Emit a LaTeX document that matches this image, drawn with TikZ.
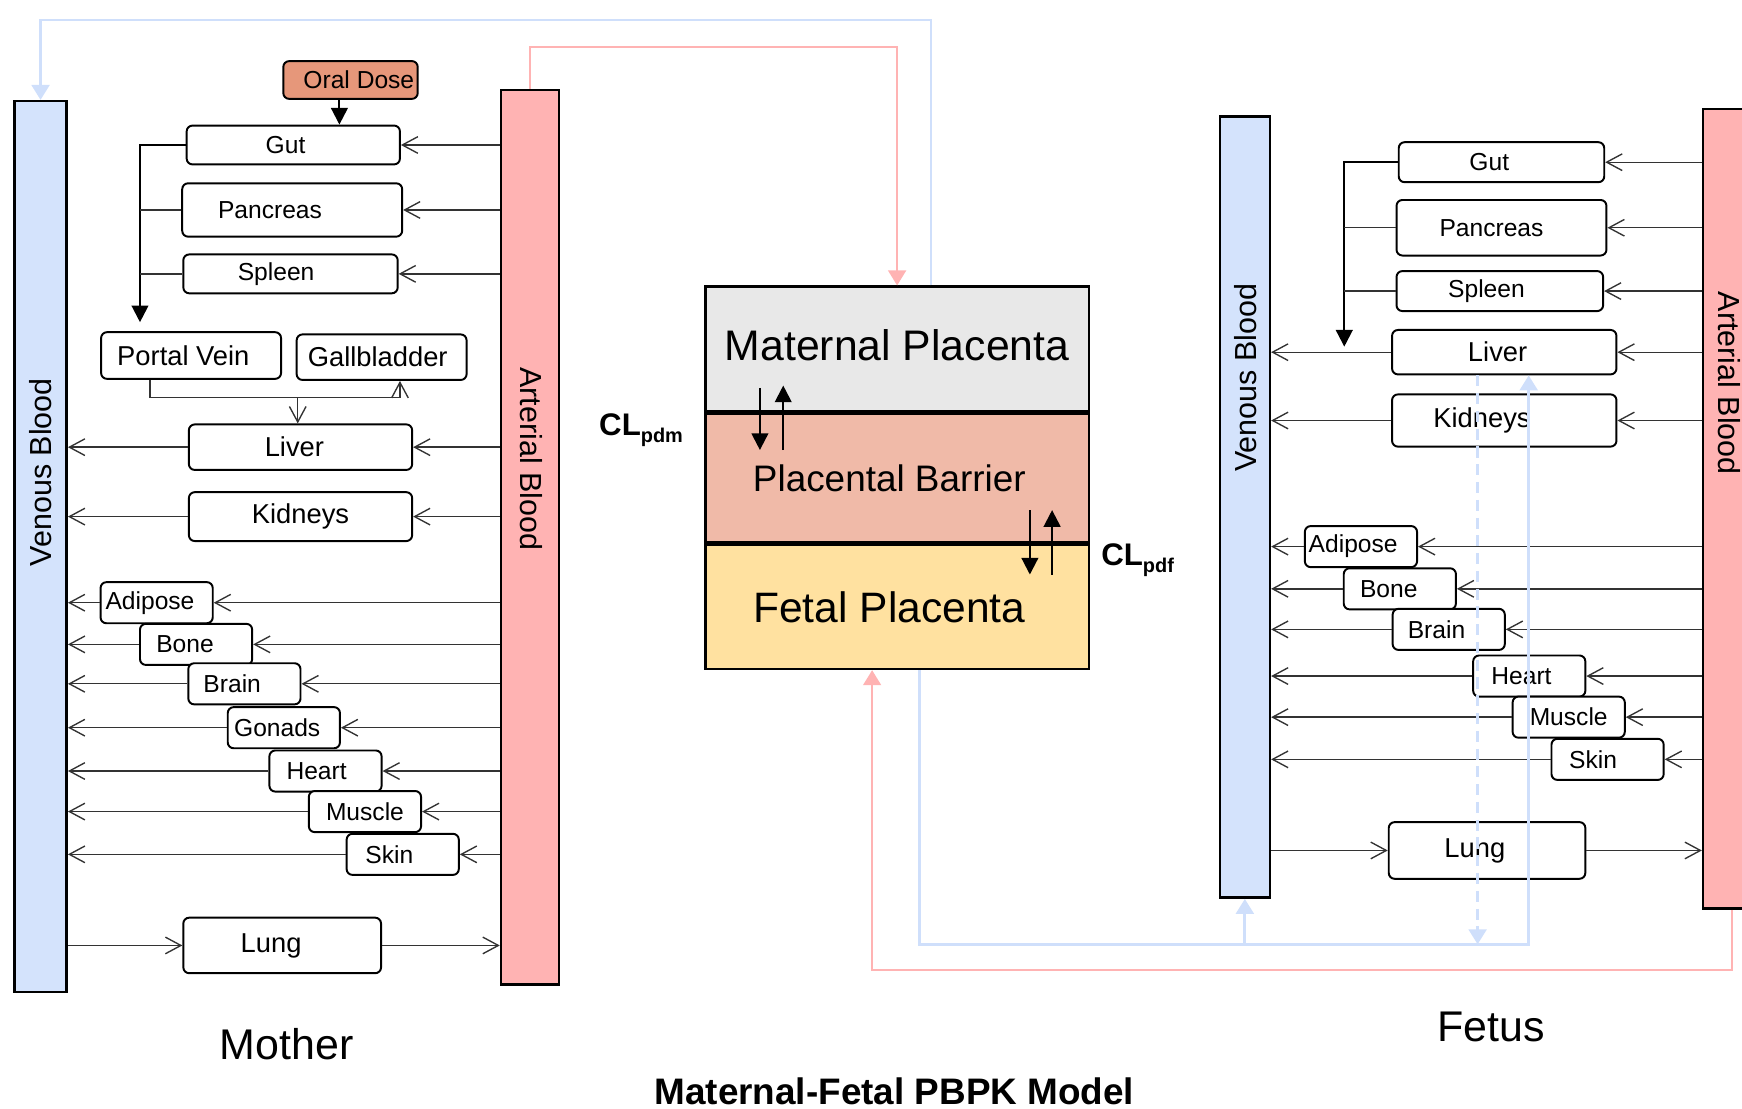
\documentclass[tikz,border=0pt]{standalone}
\usepackage{fontspec}
\setmainfont{Liberation Sans}
\usepackage{xcolor}
\usetikzlibrary{arrows.meta,positioning}

\definecolor{venblue}{HTML}{D4E3FC}
\definecolor{artpink}{HTML}{FFB3B3}
\definecolor{dosecol}{HTML}{E6977A}
\definecolor{matgray}{HTML}{E8E8E8}
\definecolor{barrcol}{HTML}{F0BAA8}
\definecolor{fetcol}{HTML}{FFE1A0}
\definecolor{linkblue}{HTML}{CFDFFB}

\begin{document}
\begin{tikzpicture}[
    x=0.02cm, y=-0.02cm,
    organ/.style={rectangle, rounded corners=3pt, draw, line width=1pt, fill=white, inner sep=1pt, font=\fontsize{12.6}{14}\selectfont},
    bigorgan/.style={organ, font=\fontsize{14}{16}\selectfont},
    tissue/.style={organ, minimum width=2.02cm, minimum height=0.74cm},
    tshift/.style={execute at begin node={\hspace*{-#1}}, execute at end node={\hspace*{#1}}},
    bar/.style={rectangle, draw, line width=1.3pt},
    barlbl/.style={font=\fontsize{15.6}{18}\selectfont},
    layer/.style={rectangle, draw, line width=1.2pt, minimum width=6.9cm},
    flow/.style={-{Straight Barb[length=0.28cm,width=0.3cm]}, line width=0.7pt, black!80},
    feed/.style={-{Triangle[length=0.3cm,width=0.3cm]}, line width=1.1pt},
    bluelink/.style={-{Triangle[length=0.27cm,width=0.32cm]}, line width=1.5pt, linkblue},
    redlink/.style={-{Triangle[length=0.27cm,width=0.32cm]}, line width=1.1pt, artpink}
]
    \useasboundingbox (0,0) rectangle (1568,998);
    \clip (0,0) rectangle (1568,998);

    % mother
    \node[bar, fill=venblue, minimum width=0.94cm, minimum height=16.04cm] (mven) at (36.5,492) {};
    \node[bar, fill=artpink, minimum width=1.04cm, minimum height=16.1cm] (mart) at (477,483.5) {};
    \node[barlbl, rotate=90] (mvenlbl) at (36.5,425) {Venous Blood};
    \node[barlbl, rotate=-90] (martlbl) at (478,413) {Arterial Blood};

    \node[organ, fill=dosecol, tshift=-0.15cm, minimum width=2.42cm, minimum height=0.68cm] (oral) at (315.5,72) {Oral Dose};
    \node[organ, tshift=0.14cm, minimum width=3.84cm, minimum height=0.70cm] (mgut) at (264,130.5) {Gut};
    \node[organ, tshift=0.4cm, minimum width=3.96cm, minimum height=0.96cm] (mpan) at (263,189) {Pancreas};
    \node[organ, tshift=0.26cm, minimum width=3.86cm, minimum height=0.70cm] (mspl) at (261.5,246.5) {Spleen};
    \node[bigorgan, tshift=0.14cm, minimum width=3.24cm, minimum height=0.84cm] (mpv) at (172,320) {Portal Vein};
    \node[bigorgan, tshift=0.07cm, minimum width=3.06cm, minimum height=0.82cm] (mgb) at (343.5,321.5) {Gallbladder};
    \node[bigorgan, tshift=0.11cm, minimum width=4.02cm, minimum height=0.82cm] (mliv) at (270.5,402.5) {Liver};
    \node[bigorgan, minimum width=4.02cm, minimum height=0.88cm] (mkid) at (270.5,465) {Kidneys};
    \node[tissue, tshift=0.12cm] (madi) at (141,542.5) {Adipose};
    \node[tissue, tshift=0.2cm] (mbone) at (176.5,580) {Bone};
    \node[tissue, tshift=0.22cm] (mbrain) at (220,615.5) {Brain};
    \node[tissue, tshift=0.12cm] (mgon) at (255.5,655) {Gonads};
    \node[tissue, tshift=0.16cm] (mheart) at (293,694) {Heart};
    \node[tissue] (mmus) at (328.5,730.5) {Muscle};
    \node[tissue, tshift=0.24cm] (mskin) at (362.5,769) {Skin};
    \node[bigorgan, tshift=0.2cm, minimum width=3.56cm, minimum height=1.0cm] (mlung) at (254,851) {Lung};

    % placenta
    \node[layer, fill=matgray, minimum height=2.24cm, font=\fontsize{21.9}{24}\selectfont] (matp) at (807.5,314) {\raisebox{4pt}{Maternal Placenta}};
    \node[layer, fill=barrcol, tshift=0.14cm, minimum height=2.32cm, font=\fontsize{18.9}{22}\selectfont, below=0pt of matp] (barr) {Placental Barrier};
    \node[layer, fill=fetcol, tshift=0.14cm, minimum height=2.24cm, font=\fontsize{21.8}{24}\selectfont, below=0pt of barr] (fetp) {Fetal Placenta};
    \node[font=\bfseries\fontsize{16}{18}\selectfont] (clpdm) at (577,387) {CL\raisebox{-3.6pt}{\fontsize{10.2}{12}\selectfont pdm}};
    \node[font=\bfseries\fontsize{16}{18}\selectfont] (clpdf) at (1024,504) {CL\raisebox{-3.6pt}{\fontsize{10.2}{12}\selectfont pdf}};

    % fetus
    \node[bar, fill=venblue, minimum width=0.90cm, minimum height=14.06cm] (fven) at (1120.5,456.5) {};
    \node[bar, fill=artpink, minimum width=1.04cm, minimum height=14.4cm] (fart) at (1559,458) {};
    \node[barlbl, rotate=90] (fvenlbl) at (1121,340) {Venous Blood};
    \node[barlbl, rotate=-90] (fartlbl) at (1557,345) {Arterial Blood};

    \node[organ, tshift=0.22cm, minimum width=3.70cm, minimum height=0.72cm] (fgut) at (1351.5,146) {Gut};
    \node[organ, tshift=0.18cm, minimum width=3.78cm, minimum height=1.0cm] (fpan) at (1351.5,205) {Pancreas};
    \node[organ, tshift=0.24cm, minimum width=3.72cm, minimum height=0.72cm] (fspl) at (1350,262) {Spleen};
    \node[bigorgan, tshift=0.12cm, minimum width=4.04cm, minimum height=0.80cm] (fliv) at (1354,317) {Liver};
    \node[bigorgan, tshift=0.4cm, minimum width=4.04cm, minimum height=0.94cm] (fkid) at (1354,378.5) {Kidneys};
    \node[tissue, tshift=0.14cm] (fadi) at (1225,492) {Adipose};
    \node[tissue, tshift=0.2cm] (fbone) at (1260,530) {Bone};
    \node[tissue, tshift=0.22cm] (fbrain) at (1304,566.5) {Brain};
    \node[tissue, tshift=0.14cm] (fheart) at (1376.5,608.5) {Heart};
    \node[tissue] (fmus) at (1412,645.5) {Muscle};
    \node[tissue, tshift=0.26cm] (fskin) at (1447,683.5) {Skin};
    \node[bigorgan, tshift=0.22cm, minimum width=3.54cm, minimum height=1.02cm] (flung) at (1338.5,765.5) {Lung};

    \node[font=\fontsize{22}{26}\selectfont] (mlabel) at (258,940) {Mother};
    \node[font=\fontsize{22}{26}\selectfont] (flabel) at (1342,924) {Fetus};
    \node[font=\bfseries\fontsize{18.9}{22}\selectfont] (title) at (805,982) {Maternal-Fetal PBPK Model};

    % mother flows
    \coordinate (dosein) at ([xshift=-0.2cm]oral.south);
    \draw[feed] (dosein) -- (dosein |- mgut.north);
    \draw[flow] (mart.west |- mgut.east) -- (mgut.east);
    \draw[flow] (mart.west |- mpan.east) -- (mpan.east);
    \draw[flow] (mart.west |- mspl.east) -- (mspl.east);
    \draw[flow] (mart.west |- mliv.east) -- (mliv.east);
    \draw[flow] (mart.west |- mkid.east) -- (mkid.east);
    \draw[flow] (mart.west |- madi.east) -- (madi.east);
    \draw[flow] (mart.west |- mbone.east) -- (mbone.east);
    \draw[flow] (mart.west |- mbrain.east) -- (mbrain.east);
    \draw[flow] (mart.west |- mgon.east) -- (mgon.east);
    \draw[flow] (mart.west |- mheart.east) -- (mheart.east);
    \draw[flow] (mart.west |- mmus.east) -- (mmus.east);
    \draw[flow] (mart.west |- mskin.east) -- (mskin.east);

    \coordinate (mcol) at (126,290);
    \draw[feed] (mgut.west) -| (mcol);
    \draw[line width=0.7pt, black!80] (mpan.west) -- (mpan.west -| mcol);
    \draw[line width=0.7pt, black!80] (mspl.west) -- (mspl.west -| mcol);

    \coordinate (mjoin) at (268,358);
    \coordinate (mpvout) at ([xshift=-0.74cm]mpv.south);
    \coordinate (mgbin) at ([xshift=0.33cm]mgb.south);
    \draw[flow] (mpvout) |- (mjoin) -| (mgbin);
    \draw[flow] (mjoin) -- (mjoin |- mliv.north);

    \draw[flow] (mliv.west) -- (mliv.west -| mven.east);
    \draw[flow] (mkid.west) -- (mkid.west -| mven.east);
    \draw[flow] (madi.west) -- (madi.west -| mven.east);
    \draw[flow] (mbone.west) -- (mbone.west -| mven.east);
    \draw[flow] (mbrain.west) -- (mbrain.west -| mven.east);
    \draw[flow] (mgon.west) -- (mgon.west -| mven.east);
    \draw[flow] (mheart.west) -- (mheart.west -| mven.east);
    \draw[flow] (mmus.west) -- (mmus.west -| mven.east);
    \draw[flow] (mskin.west) -- (mskin.west -| mven.east);
    \draw[flow] (mven.east |- mlung.west) -- (mlung.west);
    \draw[flow] (mlung.east) -- (mlung.east -| mart.west);

    % placental exchange
    \draw[feed] ([shift={(-123.5,-22)}]barr.north) -- ++(0,56);
    \draw[feed] ([shift={(-102.5,34)}]barr.north) -- ++(0,-58);
    \draw[feed] ([shift={(119.5,-30)}]fetp.north) -- ++(0,58);
    \draw[feed] ([shift={(139.5,28)}]fetp.north) -- ++(0,-58);

    % fetus flows
    \draw[flow] (fart.west |- fgut.east) -- (fgut.east);
    \draw[flow] (fart.west |- fpan.east) -- (fpan.east);
    \draw[flow] (fart.west |- fspl.east) -- (fspl.east);
    \draw[flow] (fart.west |- fliv.east) -- (fliv.east);
    \draw[flow] (fart.west |- fkid.east) -- (fkid.east);
    \draw[flow] (fart.west |- fadi.east) -- (fadi.east);
    \draw[flow] (fart.west |- fbone.east) -- (fbone.east);
    \draw[flow] (fart.west |- fbrain.east) -- (fbrain.east);
    \draw[flow] (fart.west |- fheart.east) -- (fheart.east);
    \draw[flow] (fart.west |- fmus.east) -- (fmus.east);
    \draw[flow] (fart.west |- fskin.east) -- (fskin.east);

    \coordinate (fcol) at (1210,312);
    \draw[feed] (fgut.west) -| (fcol);
    \draw[line width=0.7pt, black!80] (fpan.west) -- (fpan.west -| fcol);
    \draw[line width=0.7pt, black!80] (fspl.west) -- (fspl.west -| fcol);

    \draw[flow] (fliv.west) -- (fliv.west -| fven.east);
    \draw[flow] (fkid.west) -- (fkid.west -| fven.east);
    \draw[flow] (fadi.west) -- (fadi.west -| fven.east);
    \draw[flow] (fbone.west) -- (fbone.west -| fven.east);
    \draw[flow] (fbrain.west) -- (fbrain.west -| fven.east);
    \draw[flow] (fheart.west) -- (fheart.west -| fven.east);
    \draw[flow] (fmus.west) -- (fmus.west -| fven.east);
    \draw[flow] (fskin.west) -- (fskin.west -| fven.east);
    \draw[flow] (fven.east |- flung.west) -- (flung.west);
    \draw[flow] (flung.east) -- (flung.east -| fart.west);

    % blood links
    \coordinate (mtop) at (36.5,18);
    \coordinate (atop) at (477,42);
    \draw[bluelink] ([xshift=0.61cm]matp.north) |- (mtop) -- (mven.north);
    \draw[redlink] (mart.north) -- (atop) -| (matp.north);

    \coordinate (pbot) at (1557,873);
    \coordinate (fbot) at (1120.5,850);
    \coordinate (fdash) at ([xshift=-0.48cm]fliv.south);
    \draw[redlink] (fart.south) -- (fart.south |- pbot) -| ([xshift=-0.45cm]fetp.south);
    \draw[bluelink] ([xshift=0.41cm]fetp.south) |- (fbot) -| ([xshift=0.44cm]fliv.south);
    \draw[bluelink] (fbot) -- (fven.south);
    \draw[bluelink, dash pattern=on 0.2cm off 0.12cm] (fdash) -- (fdash |- fbot);
\end{tikzpicture}
\end{document}
